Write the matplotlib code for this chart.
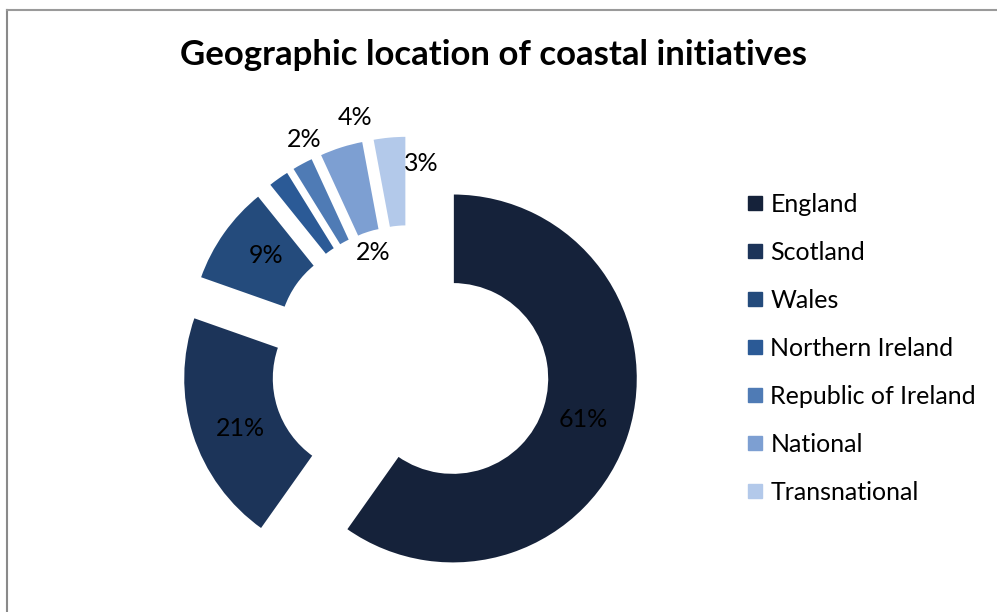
import matplotlib
matplotlib.use("Agg")
import matplotlib.pyplot as plt
import numpy as np
from matplotlib.lines import Line2D

categories = ["England", "Scotland", "Wales", "Northern Ireland",
              "Republic of Ireland", "National", "Transnational"]
values = [61, 21, 9, 2, 2, 4, 3]
pct_labels = ["61%", "21%", "9%", "2%", "2%", "4%", "3%"]
title = "Geographic location of coastal initiatives"

colors = ["#15223a", "#1c3459", "#244b7c", "#2b5a96",
          "#4f7bb5", "#7d9fd2", "#b3c9ea"]

W, H = 997, 612
fig = plt.figure(figsize=(W / 100, H / 100), dpi=100)
plt.rcParams['font.family'] = ['Lato', 'DejaVu Sans']

# pie geometry (pixels)
cx, cy, R = 410.5, 365.0, 185.0
ax = fig.add_axes([0, 0, 1, 1])
explode_amt = 0.24
wedges, _ = ax.pie(values, colors=colors, startangle=90, counterclock=False,
                   explode=[explode_amt] * len(values),
                   wedgeprops=dict(width=0.49, edgecolor="white", linewidth=1.5))
ax.set_aspect('auto')
ax.set_xlim(-cx / R, (W - cx) / R)
ax.set_ylim(-(H - cy) / R, cy / R)
ax.axis('off')

# label placement: (radius factor, angle offset in degrees) per slice
label_r = [0.74, 0.74, 0.74, 1.35, 0.64, 1.37, 1.09]
label_da = [0.0, 3.0, -2.0, -10.0, -10.0, -5.0, -8.5]
for w, lab, rf, da in zip(wedges, pct_labels, label_r, label_da):
    mid = np.deg2rad((w.theta1 + w.theta2) / 2 + da)
    inside = 0.7 < rf < 1.0
    r = rf + (explode_amt if inside else 0)
    ax.text(r * np.cos(mid), r * np.sin(mid), lab, ha="center", va="center",
            fontsize=18, color="black")

fig.text(493 / W, 1 - 55 / H, title, ha="center", va="center",
         fontsize=25, fontweight="bold", color="black")

handles = [Line2D([0], [0], marker="s", linestyle="none", markersize=10,
                  markerfacecolor=c, markeredgecolor=c) for c in colors]
fig.legend(handles, categories, loc="upper left",
           bbox_to_anchor=(739 / W, 1 - 183 / H), frameon=False,
           fontsize=18, handlelength=0.5, handletextpad=0.35,
           labelspacing=1.0, borderaxespad=0)

# chart frame (left and top edges visible)
fig.add_artist(Line2D([7 / W, 7 / W], [0, 1 - 10 / H], color="#8a8a8a",
                      linewidth=1.5, transform=fig.transFigure))
fig.add_artist(Line2D([7 / W, 1], [1 - 10 / H, 1 - 10 / H], color="#9a9a9a",
                      linewidth=1.5, transform=fig.transFigure))

fig.savefig("out.png", dpi=100)
